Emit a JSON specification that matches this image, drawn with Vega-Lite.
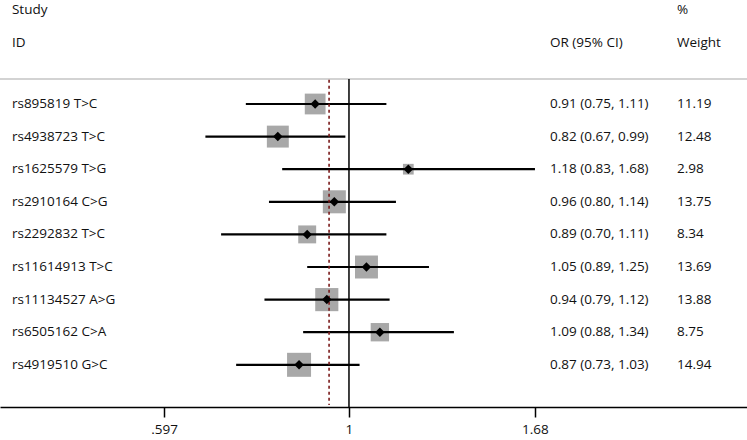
{
  "$schema": "https://vega.github.io/schema/vega-lite/v6.json",
  "width": 747,
  "height": 407,
  "autosize": {"type": "none"},
  "padding": {"left": 0, "right": 0, "top": 0, "bottom": 33},
  "background": "white",
  "config": {
    "view": {"stroke": null},
    "text": {"font": "Open Sans", "fontSize": 13.5, "color": "#111111"},
    "axis": {"labelFont": "Open Sans"}
  },
  "data": {
    "values": [
      {"row": 1, "study": "rs895819 T>C", "or": 0.91, "lo": 0.75, "hi": 1.11, "weight": 11.19, "ci": "0.91 (0.75, 1.11)", "wt": "11.19"},
      {"row": 2, "study": "rs4938723 T>C", "or": 0.82, "lo": 0.67, "hi": 0.99, "weight": 12.48, "ci": "0.82 (0.67, 0.99)", "wt": "12.48"},
      {"row": 3, "study": "rs1625579 T>G", "or": 1.18, "lo": 0.83, "hi": 1.68, "weight": 2.98, "ci": "1.18 (0.83, 1.68)", "wt": "2.98"},
      {"row": 4, "study": "rs2910164 C>G", "or": 0.96, "lo": 0.80, "hi": 1.14, "weight": 13.75, "ci": "0.96 (0.80, 1.14)", "wt": "13.75"},
      {"row": 5, "study": "rs2292832 T>C", "or": 0.89, "lo": 0.70, "hi": 1.11, "weight": 8.34, "ci": "0.89 (0.70, 1.11)", "wt": "8.34"},
      {"row": 6, "study": "rs11614913 T>C", "or": 1.05, "lo": 0.89, "hi": 1.25, "weight": 13.69, "ci": "1.05 (0.89, 1.25)", "wt": "13.69"},
      {"row": 7, "study": "rs11134527 A>G", "or": 0.94, "lo": 0.79, "hi": 1.12, "weight": 13.88, "ci": "0.94 (0.79, 1.12)", "wt": "13.88"},
      {"row": 8, "study": "rs6505162 C>A", "or": 1.09, "lo": 0.88, "hi": 1.34, "weight": 8.75, "ci": "1.09 (0.88, 1.34)", "wt": "8.75"},
      {"row": 9, "study": "rs4919510 G>C", "or": 0.87, "lo": 0.73, "hi": 1.03, "weight": 14.94, "ci": "0.87 (0.73, 1.03)", "wt": "14.94"}
    ]
  },
  "layer": [
    {
      "data": {"values": [{}]},
      "mark": {"type": "rule", "color": "#c4c4c4", "strokeWidth": 1.5},
      "encoding": {
        "y": {"datum": 0.233, "type": "quantitative", "axis": null,
              "scale": {"domain": [-2.19, 10.294], "reverse": true, "nice": false, "zero": false}}
      }
    },
    {
      "mark": {"type": "point", "shape": "square", "filled": true, "color": "#a8a8a8", "opacity": 1},
      "encoding": {
        "x": {"field": "or", "type": "quantitative", "title": null,
              "scale": {"type": "log", "domain": [0.3778, 3.035], "nice": false, "zero": false},
              "axis": {"values": [0.597, 1, 1.68], "labelExpr": "datum.value < 0.9 ? '.597' : datum.value > 1.5 ? '1.68' : '1'",
                       "grid": false, "domainColor": "#000000", "domainWidth": 1.5, "tickColor": "#000000", "tickWidth": 1.5,
                       "tickSize": 10, "labelFontSize": 13.5, "labelColor": "#111111", "labelPadding": 5, "labelFlush": false}},
        "y": {"field": "row", "type": "quantitative", "axis": null,
              "scale": {"domain": [-2.19, 10.294], "reverse": true, "nice": false, "zero": false}},
        "size": {"field": "weight", "type": "quantitative", "legend": null,
                 "scale": {"type": "linear", "domain": [0, 14.94], "range": [0, 576], "zero": true}}
      }
    },
    {
      "mark": {"type": "rule", "color": "#000000", "strokeWidth": 2.2},
      "encoding": {
        "x": {"field": "lo", "type": "quantitative"},
        "x2": {"field": "hi"},
        "y": {"field": "row", "type": "quantitative"}
      }
    },
    {
      "data": {"values": [{}]},
      "mark": {"type": "rule", "color": "#000000", "strokeWidth": 1.5},
      "encoding": {
        "x": {"datum": 1, "type": "quantitative"},
        "y": {"datum": 0.233, "type": "quantitative"},
        "y2": {"datum": 10.294}
      }
    },
    {
      "data": {"values": [{}]},
      "mark": {"type": "rule", "color": "#7a1a1a", "strokeWidth": 1.6, "strokeDash": [3, 3]},
      "encoding": {
        "x": {"datum": 0.946, "type": "quantitative"},
        "y": {"datum": 0.26, "type": "quantitative"},
        "y2": {"datum": 10.23}
      }
    },
    {
      "mark": {"type": "point", "shape": "diamond", "filled": true, "color": "#000000", "opacity": 1, "size": 90},
      "encoding": {
        "x": {"field": "or", "type": "quantitative"},
        "y": {"field": "row", "type": "quantitative"}
      }
    },
    {
      "mark": {"type": "text", "align": "left", "baseline": "middle"},
      "encoding": {
        "x": {"datum": 0.3906, "type": "quantitative"},
        "y": {"field": "row", "type": "quantitative"},
        "text": {"field": "study"}
      }
    },
    {
      "mark": {"type": "text", "align": "left", "baseline": "middle"},
      "encoding": {
        "x": {"datum": 1.752, "type": "quantitative"},
        "y": {"field": "row", "type": "quantitative"},
        "text": {"field": "ci"}
      }
    },
    {
      "mark": {"type": "text", "align": "left", "baseline": "middle"},
      "encoding": {
        "x": {"datum": 2.4966, "type": "quantitative"},
        "y": {"field": "row", "type": "quantitative"},
        "text": {"field": "wt"}
      }
    },
    {
      "data": {"values": [{"t": "Study"}]},
      "mark": {"type": "text", "align": "left", "baseline": "middle"},
      "encoding": {
        "x": {"datum": 0.3906, "type": "quantitative"},
        "y": {"datum": -1.883, "type": "quantitative"},
        "text": {"field": "t"}
      }
    },
    {
      "data": {"values": [{"t": "ID"}]},
      "mark": {"type": "text", "align": "left", "baseline": "middle"},
      "encoding": {
        "x": {"datum": 0.3906, "type": "quantitative"},
        "y": {"datum": -0.871, "type": "quantitative"},
        "text": {"field": "t"}
      }
    },
    {
      "data": {"values": [{"t": "OR (95% CI)"}]},
      "mark": {"type": "text", "align": "left", "baseline": "middle"},
      "encoding": {
        "x": {"datum": 1.752, "type": "quantitative"},
        "y": {"datum": -0.871, "type": "quantitative"},
        "text": {"field": "t"}
      }
    },
    {
      "data": {"values": [{"t": "%"}]},
      "mark": {"type": "text", "align": "left", "baseline": "middle"},
      "encoding": {
        "x": {"datum": 2.4966, "type": "quantitative"},
        "y": {"datum": -1.883, "type": "quantitative"},
        "text": {"field": "t"}
      }
    },
    {
      "data": {"values": [{"t": "Weight"}]},
      "mark": {"type": "text", "align": "left", "baseline": "middle"},
      "encoding": {
        "x": {"datum": 2.4966, "type": "quantitative"},
        "y": {"datum": -0.871, "type": "quantitative"},
        "text": {"field": "t"}
      }
    }
  ]
}
